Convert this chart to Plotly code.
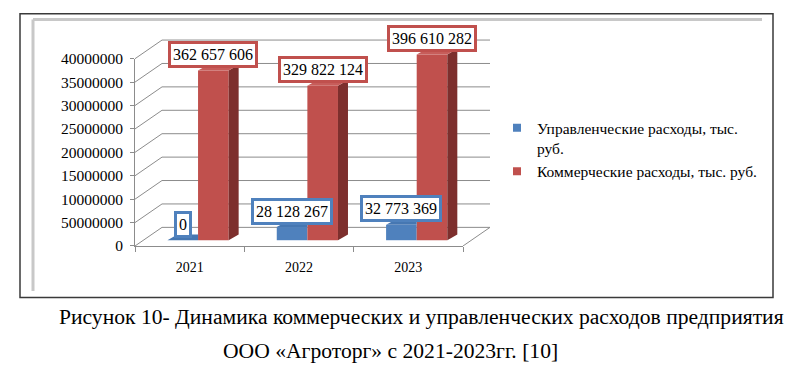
import plotly.graph_objects as go

# ---------------- data ----------------
years = ["2021", "2022", "2023"]
mgmt_name = "Управленческие расходы, тыс.<br>руб."
comm_name = "Коммерческие расходы, тыс. руб."
mgmt = [0, 28128267, 32773369]
comm = [362657606, 329822124, 396610282]
ytick_text = ["0", "50000000", "10000000", "15000000", "20000000",
              "25000000", "30000000", "35000000", "40000000"]
caption1 = "Рисунок 10- Динамика коммерческих и управленческих расходов предприятия"
caption2 = "ООО «Агроторг» с 2021-2023гг. [10]"

# ---------------- styling / geometry ----------------
W, H = 800, 383
FONT = "'Liberation Serif', 'Times New Roman', serif"
BLUE, BLUE_TOP = "#4F81BD", "#4677B2"
RED, RED_SIDE, RED_TOP = "#C0504D", "#7D2F2D", "#C75D5A"
GRID = "#8C8C8C"

YMAX = 400_000_000
ytick_vals = [i * YMAX // (len(ytick_text) - 1) for i in range(len(ytick_text))]

X0, X1 = 135, 463          # front plane x pixel extent
Y0, YT = 248, 52           # front plane pixel of 0 and YMAX
cat_px = (X1 - X0) / len(years)
vpp = YMAX / (Y0 - YT)     # value per pixel
DX, DY = 27 / cat_px, 19.5 * vpp     # depth of the box (world units)
f = 0.31                              # depth position of bars
bx, by = f * DX, f * DY
w = 0.28                              # bar width (category units)
sdx, sdy = 10 / cat_px, 6 * vpp       # bar depth projection

WX0, WX1, WYT = 135, 495, 25          # world subplot pixel extent


def px(p):
    return p / W


def py(p):
    return 1 - p / H


fig = go.Figure()

# invisible trace to register categories on front axis
fig.add_trace(go.Scatter(x=years, y=[0] * len(years), mode="markers",
                         marker=dict(opacity=0), hoverinfo="skip",
                         showlegend=False, xaxis="x", yaxis="y"))

# blue bars
fig.add_trace(go.Bar(x=[i + bx for i in range(len(years))], y=mgmt,
                     base=[by] * len(years), offset=-w, width=w,
                     marker=dict(color=BLUE, line=dict(width=0)),
                     showlegend=False, xaxis="x2", yaxis="y2", hoverinfo="skip"))
# red bars
fig.add_trace(go.Bar(x=[i + bx for i in range(len(years))], y=comm,
                     base=[by] * len(years), offset=0, width=w,
                     marker=dict(color=RED, line=dict(width=0)),
                     showlegend=False, xaxis="x2", yaxis="y2", hoverinfo="skip"))

# 3D faces computed from data
bxs, bys = [], []
for i, v in enumerate(mgmt):
    xl, xr, t = i + bx - w, i + bx, by + v
    bxs += [xl, xr, xr, xl + sdx, xl, None]
    bys += [t, t, t + sdy, t + sdy, t, None]
fig.add_trace(go.Scatter(x=bxs, y=bys, mode="lines", fill="toself",
                         fillcolor=BLUE_TOP, line=dict(width=0),
                         showlegend=False, hoverinfo="skip", xaxis="x2", yaxis="y2"))
sxs, sys_, txs, tys = [], [], [], []
for i, v in enumerate(comm):
    xl, xr, t = i + bx, i + bx + w, by + v
    sxs += [xr, xr + sdx, xr + sdx, xr, xr, None]
    sys_ += [by, by + sdy, t + sdy, t, by, None]
    txs += [xl, xr, xr + sdx, xl + sdx, xl, None]
    tys += [t, t, t + sdy, t + sdy, t, None]
fig.add_trace(go.Scatter(x=sxs, y=sys_, mode="lines", fill="toself",
                         fillcolor=RED_SIDE, line=dict(width=0),
                         showlegend=False, hoverinfo="skip", xaxis="x2", yaxis="y2"))
fig.add_trace(go.Scatter(x=txs, y=tys, mode="lines", fill="toself",
                         fillcolor=RED_TOP, line=dict(width=0),
                         showlegend=False, hoverinfo="skip", xaxis="x2", yaxis="y2"))

# legend dummies
fig.add_trace(go.Scatter(x=[None], y=[None], mode="markers", name=mgmt_name,
                         marker=dict(symbol="square", size=8, color=BLUE),
                         xaxis="x2", yaxis="y2"))
fig.add_trace(go.Scatter(x=[None], y=[None], mode="markers", name=comm_name,
                         marker=dict(symbol="square", size=8, color=RED),
                         xaxis="x2", yaxis="y2"))

# walls / grid as shapes below traces
shapes = []
xa, xb = -0.5, len(years) - 0.5
for v in ytick_vals:
    shapes.append(dict(type="line", xref="x2", yref="y2", layer="below",
                       x0=xa, y0=v, x1=xa + DX, y1=v + DY,
                       line=dict(color=GRID, width=1)))
    shapes.append(dict(type="line", xref="x2", yref="y2", layer="below",
                       x0=xa + DX, y0=v + DY, x1=xb + DX, y1=v + DY,
                       line=dict(color=GRID, width=1)))
shapes.append(dict(type="line", xref="x2", yref="y2", layer="below",
                   x0=xb, y0=0, x1=xb + DX, y1=DY, line=dict(color=GRID, width=1)))

# chart frame
shapes.append(dict(type="rect", xref="paper", yref="paper",
                   x0=px(20), x1=px(773), y0=py(302), y1=py(5),
                   line=dict(color="#3A3A3A", width=1.5)))
shapes.append(dict(type="line", xref="paper", yref="paper",
                   x0=px(33), x1=px(762), y0=py(11), y1=py(11),
                   line=dict(color="#C8C8C8", width=3)))
shapes.append(dict(type="line", xref="paper", yref="paper",
                   x0=px(33), x1=px(33), y0=py(11), y1=py(295),
                   line=dict(color="#C8C8C8", width=3)))

# data labels
LBL = dict(family=FONT, size=16, color="#000")
ann = []
for i, v in enumerate(mgmt):
    ann.append(dict(x=i + bx - w / 2, y=by + v, xref="x2", yref="y2", yshift=16,
                    xanchor="center", yanchor="middle",
                    text=f"{v:,}".replace(",", " "), showarrow=False, font=LBL,
                    bgcolor="white", bordercolor=BLUE, borderwidth=3, borderpad=2))
for i, v in enumerate(comm):
    ann.append(dict(x=i + bx + w / 2, y=by + v, xref="x2", yref="y2", yshift=16,
                    xanchor="center", yanchor="middle",
                    text=f"{v:,}".replace(",", " "), showarrow=False, font=LBL,
                    bgcolor="white", bordercolor=RED, borderwidth=3, borderpad=2))
CAP = dict(family=FONT, size=21.6, color="#000")
ann.append(dict(x=px(421), y=py(322), xref="paper", yref="paper", text=caption1,
                xanchor="center", yanchor="middle", showarrow=False, font=CAP))
ann.append(dict(x=px(390), y=py(358), xref="paper", yref="paper", text=caption2,
                xanchor="center", yanchor="middle", showarrow=False, font=CAP))

fig.update_layout(
    width=W, height=H, margin=dict(l=0, r=0, t=0, b=0),
    paper_bgcolor="white", plot_bgcolor="rgba(0,0,0,0)",
    font=dict(family=FONT, color="#000"),
    barmode="overlay", shapes=shapes, annotations=ann,
    showlegend=True,
    legend=dict(x=px(497), y=py(107), xanchor="left", yanchor="top",
                font=dict(family=FONT, size=15.5, color="#000"),
                bgcolor="rgba(0,0,0,0)", valign="top"),
    xaxis=dict(domain=[px(X0), px(X1)], anchor="y", type="category",
               categoryorder="array", categoryarray=years,
               range=[-0.5, len(years) - 0.5], showgrid=False, zeroline=False,
               showline=True, linecolor=GRID, linewidth=1,
               ticks="outside", tickson="boundaries", ticklen=5, tickcolor=GRID,
               ticklabelstandoff=8,
               tickfont=dict(family=FONT, size=14, color="#000"), fixedrange=True),
    yaxis=dict(domain=[py(Y0), py(YT)], anchor="x", range=[0, YMAX],
               tickmode="array", tickvals=ytick_vals, ticktext=ytick_text,
               showgrid=False, zeroline=False, showline=True, linecolor=GRID,
               linewidth=1, ticks="outside", ticklen=4, tickcolor=GRID,
               ticklabelstandoff=4,
               tickfont=dict(family=FONT, size=15.5, color="#000"), fixedrange=True),
    xaxis2=dict(domain=[px(WX0), px(WX1)], anchor="y2",
                range=[-0.5, -0.5 + (WX1 - WX0) / cat_px], visible=False,
                fixedrange=True),
    yaxis2=dict(domain=[py(Y0), py(WYT)], anchor="x2",
                range=[0, (Y0 - WYT) * vpp], visible=False, fixedrange=True),
)

fig.write_html("out.html", config={"displayModeBar": False},
               post_script="document.body.style.margin='0';"
                           "document.documentElement.style.overflow='hidden';")
